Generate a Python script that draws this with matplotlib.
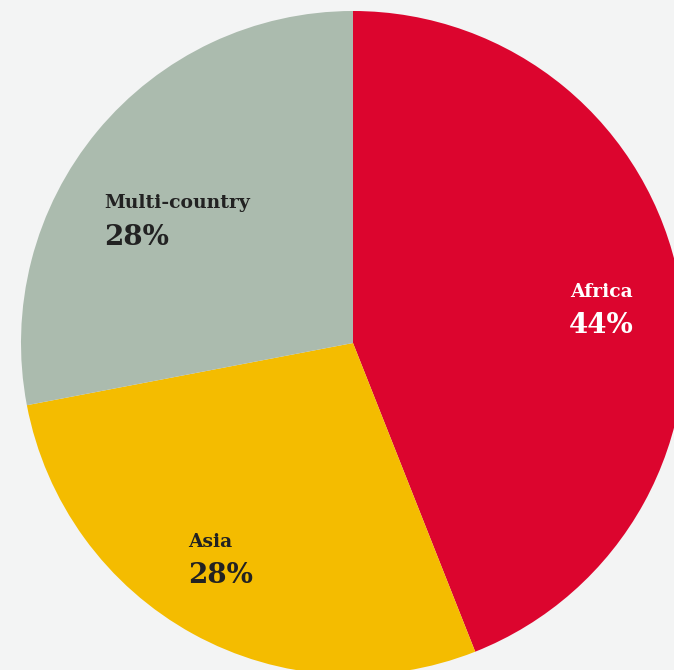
import matplotlib.pyplot as plt

# share of projects by region
regions = ["Africa", "Asia", "Multi-country"]
shares = [44, 28, 28]
colors = ["#dc052e", "#f4bc00", "#abbbae"]

W, H = 674, 670
bg = "#f3f4f4"

fig = plt.figure(figsize=(W / 100, H / 100), dpi=100, facecolor=bg)
ax = fig.add_axes([0, 0, 1, 1])
ax.set_facecolor(bg)

cx, cy, r = 353, H - 343, 332
ax.pie(shares, colors=colors, startangle=90, counterclock=False,
       center=(cx, cy), radius=r, frame=True,
       wedgeprops=dict(linewidth=0))
ax.set_xlim(0, W)
ax.set_ylim(0, H)
ax.set_aspect("equal")
ax.axis("off")

# label positions in pixels from top-left: (x, name baseline, value baseline, align, colour)
label_pos = {
    "Africa": (601, 297, 333, "center", "white"),
    "Asia": (188, 547, 583, "left", "#222222"),
    "Multi-country": (104, 208, 245, "left", "#222222"),
}
for name, val in zip(regions, shares):
    x, y1, y2, ha, c = label_pos[name]
    ax.text(x, H - y1, name, ha=ha, va="baseline", color=c,
            fontsize=13.5, fontweight="bold", family="DejaVu Serif")
    ax.text(x, H - y2, f"{val}%", ha=ha, va="baseline", color=c,
            fontsize=20, fontweight="bold", family="DejaVu Serif")

fig.savefig("out.png", dpi=100, facecolor=bg)
